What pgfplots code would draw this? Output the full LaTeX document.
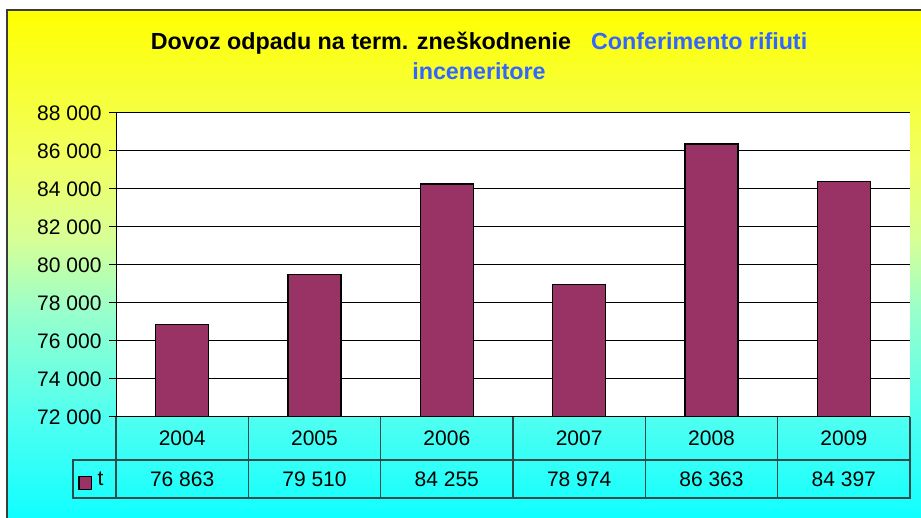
\documentclass[border=0pt]{standalone}
\usepackage{pgfplots}
\pgfplotsset{compat=1.18}
\usepackage{fontspec}
\setmainfont{Liberation Sans}
\definecolor{barc}{RGB}{153,51,102}
\definecolor{tblline}{RGB}{45,75,75}
\definecolor{ttlblue}{RGB}{51,102,255}
\definecolor{frame}{RGB}{60,60,60}
\definecolor{bg0}{RGB}{16,255,255}
\definecolor{bgA}{RGB}{80,255,240}
\definecolor{bgB}{RGB}{150,255,205}
\definecolor{bgC}{RGB}{215,255,150}
\definecolor{bgD}{RGB}{240,255,100}
\definecolor{bgT}{RGB}{255,255,0}
\pgfdeclareverticalshading{bgshade}{100bp}{%
 color(0bp)=(bg0); color(25bp)=(bg0);
 color(35bp)=(bgA); color(45bp)=(bgB); color(52.5bp)=(bgC);
 color(60bp)=(bgD); color(75bp)=(bgT); color(100bp)=(bgT)}
\pgfplotstableread{
x year t
0 2004 76863
1 2005 79510
2 2006 84255
3 2007 78974
4 2008 86363
5 2009 84397
}\datatable
\begin{document}
\begin{tikzpicture}[x=1pt,y=1pt]
\useasboundingbox (0,0) rectangle (921,518);
\fill[white] (0,0) rectangle (921,518);
\shade[shading=bgshade] (7,0) rectangle (921,508);
\draw[frame, line width=1.5pt] (7,0) -- (7,508) -- (921,508);
\node[font=\fontsize{23.3}{27}\selectfont, anchor=base] at (479,468) {\bfseries Dovoz odpadu na term. zneškodnenie\hspace{20pt}\textcolor{ttlblue}{Conferimento rifiuti}};
\node[font=\fontsize{23.3}{27}\selectfont\bfseries, text=ttlblue, anchor=base] at (479,438) {inceneritore};
\begin{axis}[
  at={(116pt,101pt)}, anchor=south west,
  scale only axis, width=794pt, height=304pt,
  xmin=-0.5, xmax=5.5, ymin=72000, ymax=88000,
  ytick distance=2000,
  xtick=\empty,
  scaled y ticks=false,
  axis x line*=bottom, axis y line*=left,
  axis line style={black, line width=1pt, -},
  tick align=outside, major tick length=7pt,
  tick style={black, line width=1pt},
  ymajorgrids, grid style={black, line width=1pt},
  axis background/.style={fill=white},
  yticklabel style={font=\fontsize{21}{25}\selectfont, xshift=-4pt,
    /pgf/number format/assume math mode=true,
    /pgf/number format/fixed, /pgf/number format/precision=0,
    /pgf/number format/1000 sep={\ }},
  ybar, bar width=53pt,
  clip=true,
]
\addplot[fill=barc, draw=black, line width=1.5pt] table[x=x, y=t] {\datatable};
\end{axis}
% data table
\begin{scope}[tblline, line width=1.2pt]
\foreach \k in {0,...,6} {\draw ({116+132.333*\k},20) -- ({116+132.333*\k},101);}
\draw (73,20) rectangle (910,58);
\end{scope}
\foreach \y [count=\i from 0] in {2004,2005,2006,2007,2008,2009} {
  \node[font=\fontsize{21}{25}\selectfont] at ({116+132.333*(\i+0.5)},79.5) {\y};
}
\foreach \v [count=\i from 0] in {76 863,79 510,84 255,78 974,86 363,84 397} {
  \node[font=\fontsize{21}{25}\selectfont] at ({116+132.333*(\i+0.5)},39) {\v};
}
\draw[fill=barc, draw=black, line width=1.2pt] (79,28.5) rectangle (91.5,41.5);
\node[font=\fontsize{21}{25}\selectfont, anchor=west] at (94,39) {t};
\end{tikzpicture}
\end{document}
